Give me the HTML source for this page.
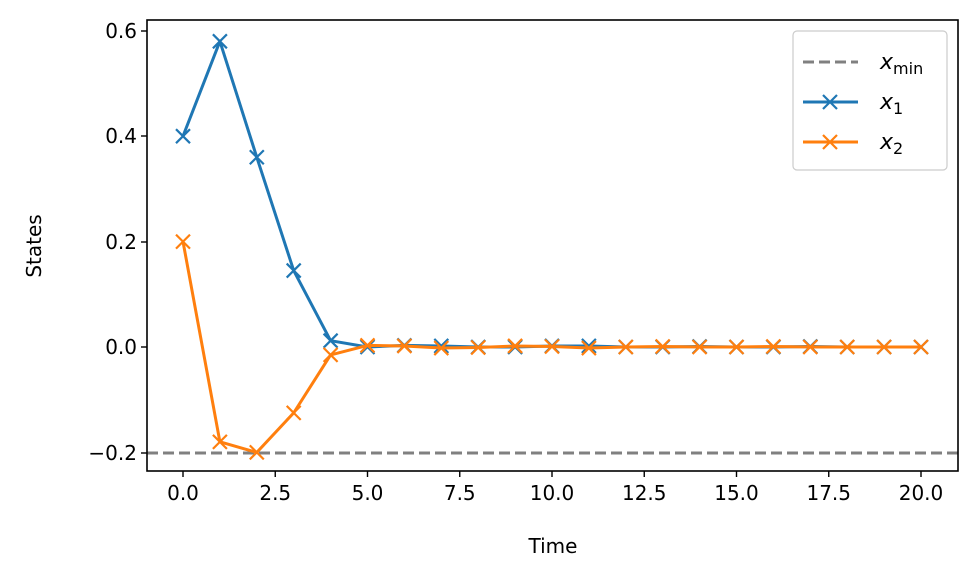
<!DOCTYPE html>
<html><head><style>body{margin:0;background:#fff}svg{display:block}text{font-family:"DejaVu Sans","Liberation Sans",sans-serif;fill:#000}</style></head>
<body>
<svg width="980" height="580" viewBox="0 0 980 580" xmlns="http://www.w3.org/2000/svg">
<rect width="980" height="580" fill="#fff"/>
<g id="plot"></g>
<rect x="147" y="20" width="811" height="451" fill="none" stroke="#000" stroke-width="1.6"/>
<g font-size="20" text-anchor="end">
<text x="137" y="38">0.6</text><text x="137" y="143">0.4</text><text x="137" y="249">0.2</text>
<text x="137" y="354">0.0</text><text x="137" y="460">−0.2</text></g>
<g stroke="#000" stroke-width="1.4">
<line x1="141" y1="31" x2="147" y2="31"/><line x1="141" y1="136" x2="147" y2="136"/><line x1="141" y1="242" x2="147" y2="242"/><line x1="141" y1="347" x2="147" y2="347"/><line x1="141" y1="453" x2="147" y2="453"/>
</g>
<g id="xt"></g>
<text x="553" y="553" font-size="20" text-anchor="middle">Time</text>
<text transform="translate(41,246) rotate(-90)" font-size="20" text-anchor="middle">States</text>
<rect x="793" y="31" width="154" height="139" rx="4" fill="#fff" fill-opacity="0.8" stroke="#ccc" stroke-width="1.2"/>
<line x1="803" y1="62" x2="858" y2="62" stroke="#808080" stroke-width="3" stroke-dasharray="11,5"/>
<line x1="803" y1="102" x2="858" y2="102" stroke="#1f77b4" stroke-width="3"/>
<path d="M823,95l14,14M837,95l-14,14" stroke="#1f77b4" stroke-width="2.2"/>
<line x1="803" y1="142" x2="858" y2="142" stroke="#ff7f0e" stroke-width="3"/>
<path d="M823,135l14,14M837,135l-14,14" stroke="#ff7f0e" stroke-width="2.2"/>
<g font-size="22" font-style="italic"><text x="880" y="69">x<tspan font-size="16" font-style="normal" dy="5">min</tspan></text>
<text x="880" y="109">x<tspan font-size="16" font-style="normal" dy="5">1</tspan></text>
<text x="880" y="149">x<tspan font-size="16" font-style="normal" dy="5">2</tspan></text></g>
</svg>
<script>
const X=t=>183+t*36.9, Y=v=>347-v*527;
const x1=[0.4,0.58,0.36,0.145,0.012,0,0.003,0.002,0,0,0.002,0.002,0,0,0.001,0,0,0.001,0,0,0];
const x2=[0.2,-0.18,-0.2,-0.125,-0.015,0.003,0.002,-0.002,-0.001,0.002,0.001,-0.002,0,0.001,0,0,0.001,0,0,0,0];
let h='<line x1="147" y1="453" x2="958" y2="453" stroke="#808080" stroke-width="3" stroke-dasharray="11,5"/>';
for(const [d,c] of [[x1,"#1f77b4"],[x2,"#ff7f0e"]]){
 h+=`<polyline fill="none" stroke="${c}" stroke-width="3" stroke-linejoin="round" points="${d.map((v,i)=>X(i)+','+Y(v)).join(' ')}"/>`;
 d.forEach((v,i)=>{const x=X(i),y=Y(v);h+=`<path d="M${x-7},${y-7}l14,14M${x+7},${y-7}l-14,14" stroke="${c}" stroke-width="2.2"/>`;});
}
document.getElementById('plot').innerHTML=h;
let t='';
for(let k=0;k<=8;k++){const v=k*2.5,x=X(v);t+=`<line x1="${x}" y1="471" x2="${x}" y2="477" stroke="#000" stroke-width="1.4"/><text x="${x}" y="500" font-size="20" text-anchor="middle">${v.toFixed(1)}</text>`;}
document.getElementById('xt').innerHTML=t;
</script>
</body></html>
